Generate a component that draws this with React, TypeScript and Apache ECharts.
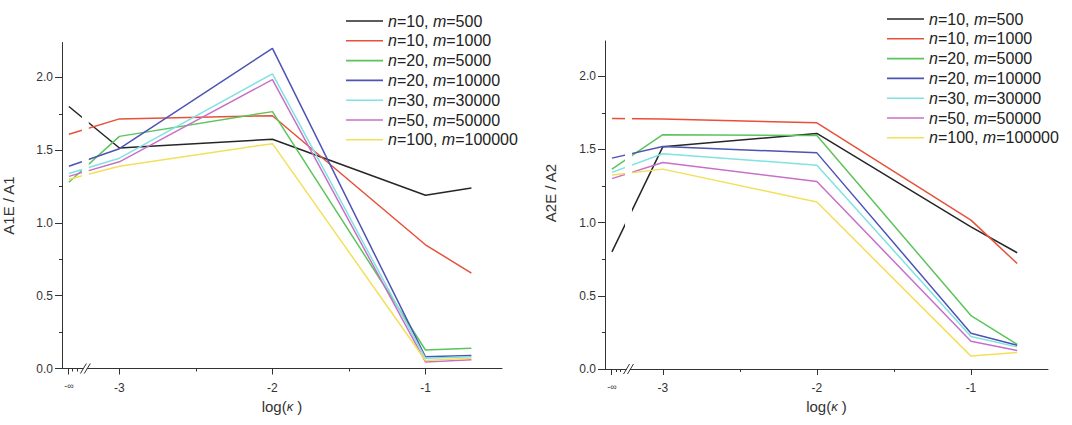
import React, { useEffect, useRef } from "react";
import * as echarts from "echarts";

// position on the broken x axis where log(κ) = -∞ is drawn
const NEG_INF_POS = -3.33;
const LOG_K = [NEG_INF_POS, -3, -2, -1, -0.7];

const SERIES_NAMES = [
  "n=10, m=500",
  "n=10, m=1000",
  "n=20, m=5000",
  "n=20, m=10000",
  "n=30, m=30000",
  "n=50, m=50000",
  "n=100, m=100000",
];
const COLORS = ["#262626", "#e8503a", "#5bc45b", "#4d54b3", "#80e2e2", "#c870c8", "#f2e05a"];

// A1E / A1
const A1_N10_M500 = [1.8, 1.515, 1.575, 1.19, 1.24];
const A1_N10_M1000 = [1.61, 1.715, 1.737, 0.85, 0.655];
const A1_N20_M5000 = [1.28, 1.595, 1.765, 0.127, 0.139];
const A1_N20_M10000 = [1.39, 1.51, 2.2, 0.08, 0.09];
const A1_N30_M30000 = [1.34, 1.445, 2.025, 0.07, 0.08];
const A1_N50_M50000 = [1.32, 1.42, 1.985, 0.045, 0.06];
const A1_N100_M100000 = [1.3, 1.39, 1.545, 0.055, 0.07];

// A2E / A2
const A2_N10_M500 = [0.8, 1.517, 1.609, 0.97, 0.794];
const A2_N10_M1000 = [1.711, 1.707, 1.681, 1.017, 0.72];
const A2_N20_M5000 = [1.365, 1.6, 1.595, 0.365, 0.168];
const A2_N20_M10000 = [1.44, 1.52, 1.476, 0.244, 0.162];
const A2_N30_M30000 = [1.343, 1.47, 1.392, 0.222, 0.151];
const A2_N50_M50000 = [1.3, 1.41, 1.28, 0.19, 0.127];
const A2_N100_M100000 = [1.325, 1.365, 1.14, 0.088, 0.112];

const A1_SERIES = [A1_N10_M500, A1_N10_M1000, A1_N20_M5000, A1_N20_M10000, A1_N30_M30000, A1_N50_M50000, A1_N100_M100000];
const A2_SERIES = [A2_N10_M500, A2_N10_M1000, A2_N20_M5000, A2_N20_M10000, A2_N30_M30000, A2_N50_M50000, A2_N100_M100000];

const X_MIN = -3.375;
const X_MAX = -0.5;
const Y_MIN = 0;
const Y_MAX = 2.24;
const X_TICKS = [-3, -2, -1];
const X_LABELS = [NEG_INF_POS, -3, -2, -1];
const X_MINOR_TICKS = [-2.5, -1.5, -3.305, -3.275];
const Y_TICKS = [0, 0.5, 1, 1.5, 2];
const Y_MINOR_TICKS = [0.25, 0.75, 1.25, 1.75];
const BREAK_START = -3.245;
const BREAK_END = -3.2;

const FONT = "'Liberation Sans', Arial, sans-serif";
const AXIS_COLOR = "#333";

function mainX(gridIndex: number) {
  return {
    type: "value",
    gridIndex,
    min: X_MIN,
    max: X_MAX,
    position: "bottom",
    axisLine: { show: true, onZero: false, lineStyle: { color: AXIS_COLOR, width: 1 } },
    axisTick: { show: true, customValues: [NEG_INF_POS - 0.005, ...X_TICKS], length: 6, lineStyle: { color: AXIS_COLOR } },
    axisLabel: {
      customValues: X_LABELS,
      formatter: (v: number) => (v < -3.1 ? "{s|-∞}" : String(v)),
      fontSize: 12,
      fontFamily: FONT,
      color: AXIS_COLOR,
      margin: 13,
      rich: { s: { fontSize: 9, fontFamily: FONT, color: AXIS_COLOR, padding: [0, 0, 8, 0] } },
    },
    splitLine: { show: false },
    name: "log({k|κ} )",
    nameLocation: "middle",
    nameGap: 30,
    nameTextStyle: {
      fontSize: 15,
      fontFamily: FONT,
      color: AXIS_COLOR,
      rich: { k: { fontStyle: "italic", fontSize: 13, fontFamily: FONT, color: AXIS_COLOR } },
    },
  };
}

function minorX(gridIndex: number) {
  return {
    type: "value",
    gridIndex,
    min: X_MIN,
    max: X_MAX,
    position: "bottom",
    axisLine: { show: false, onZero: false },
    axisTick: { show: true, customValues: X_MINOR_TICKS, length: 3, lineStyle: { color: AXIS_COLOR } },
    axisLabel: { show: false },
    splitLine: { show: false },
  };
}

function mainY(gridIndex: number, name: string) {
  return {
    type: "value",
    gridIndex,
    min: Y_MIN,
    max: Y_MAX,
    position: "left",
    axisLine: { show: true, onZero: false, lineStyle: { color: AXIS_COLOR, width: 1 } },
    axisTick: { show: true, customValues: Y_TICKS, length: 7, lineStyle: { color: AXIS_COLOR } },
    axisLabel: {
      customValues: Y_TICKS,
      formatter: (v: number) => v.toFixed(1),
      fontSize: 12,
      fontFamily: FONT,
      color: AXIS_COLOR,
      margin: 9,
    },
    splitLine: { show: false },
    name,
    nameLocation: "middle",
    nameGap: 46,
    nameTextStyle: { fontSize: 15, fontFamily: FONT, color: AXIS_COLOR },
  };
}

function minorY(gridIndex: number) {
  return {
    type: "value",
    gridIndex,
    min: Y_MIN,
    max: Y_MAX,
    position: "left",
    axisLine: { show: false, onZero: false },
    axisTick: { show: true, customValues: Y_MINOR_TICKS, length: 3, lineStyle: { color: AXIS_COLOR } },
    axisLabel: { show: false },
    splitLine: { show: false },
  };
}

function legend(left: number, top: number) {
  return {
    orient: "vertical",
    left,
    top,
    icon: "rect",
    itemWidth: 37,
    itemHeight: 1.6,
    itemGap: 3.8,
    selectedMode: false,
    data: SERIES_NAMES,
    formatter: (name: string) => name.replace(/([nm])=/g, "{i|$1}="),
    textStyle: {
      fontSize: 16,
      fontFamily: FONT,
      color: "#222",
      lineHeight: 14,
      rich: { i: { fontStyle: "italic", fontSize: 16, fontFamily: FONT, color: "#222", lineHeight: 14 } },
    },
  };
}

function makeSeries(values: number[][], xAxisIndex: number, yAxisIndex: number) {
  return values.map((vals, si) => ({
    type: "line",
    name: SERIES_NAMES[si],
    xAxisIndex,
    yAxisIndex,
    symbol: "none",
    color: COLORS[si],
    lineStyle: { color: COLORS[si], width: 1.5 },
    data: LOG_K.map((x, i) => [x, vals[i]]),
  }));
}

export default function App() {
  const ref = useRef<HTMLDivElement>(null);
  useEffect(() => {
    if (!ref.current) return;
    const chart = echarts.init(ref.current, undefined, { renderer: "svg" });
    chart.setOption({
      animation: false,
      backgroundColor: "#fff",
      grid: [
        { left: 59, top: 42.5, width: 443, height: 326 },
        { left: 605, top: 41, width: 443, height: 328 },
      ],
      xAxis: [mainX(0), minorX(0), mainX(1), minorX(1)],
      yAxis: [mainY(0, "A1E / A1"), minorY(0), mainY(1, ""), minorY(1)],
      legend: [legend(341, 8), legend(882, 6)],
      series: [...makeSeries(A1_SERIES, 0, 0), ...makeSeries(A2_SERIES, 2, 2)],
    });

    const graphics: any[] = [
      {
        type: "text",
        z: 100,
        x: 550,
        y: 193,
        rotation: Math.PI / 2,
        style: {
          text: "A2E / A2",
          fontSize: 15,
          fontFamily: FONT,
          fill: AXIS_COLOR,
          align: "center",
          verticalAlign: "middle",
        },
      },
    ];
    // axis break on each x axis
    [0, 2].forEach((xi) => {
      const yi = xi;
      const x0 = chart.convertToPixel({ xAxisIndex: xi }, BREAK_START) as number;
      const x1 = chart.convertToPixel({ xAxisIndex: xi }, BREAK_END) as number;
      const yTop = chart.convertToPixel({ yAxisIndex: yi }, Y_MAX) as number;
      const yBot = chart.convertToPixel({ yAxisIndex: yi }, Y_MIN) as number;
      graphics.push({
        type: "rect",
        z: 100,
        shape: { x: x0, y: yTop, width: x1 - x0, height: yBot - yTop - 1.5 },
        style: { fill: "#fff" },
      });
      graphics.push({
        type: "rect",
        z: 100,
        shape: { x: x0 + 2, y: yBot - 2, width: x1 - x0 - 4, height: 4 },
        style: { fill: "#fff" },
      });
      [x0 + 1.5, x1 - 1.5].forEach((cx) => {
        graphics.push({
          type: "line",
          z: 101,
          shape: { x1: cx - 3, y1: yBot + 5, x2: cx + 3, y2: yBot - 5 },
          style: { stroke: AXIS_COLOR, lineWidth: 1 },
        });
      });
    });
    chart.setOption({ graphic: graphics });

    return () => chart.dispose();
  }, []);
  return (
    <div
      ref={ref}
      style={{ position: "fixed", left: 0, top: 0, width: 1072, height: 425, background: "#fff" }}
    />
  );
}
